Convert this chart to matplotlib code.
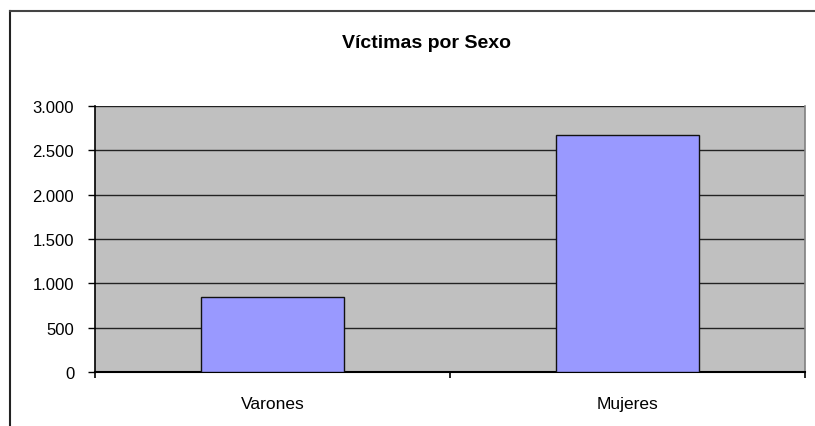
import matplotlib
matplotlib.use("Agg")
import matplotlib.pyplot as plt
from matplotlib.lines import Line2D

categories = ["Varones", "Mujeres"]
values = [842, 2676]
yticks = [0, 500, 1000, 1500, 2000, 2500, 3000]
ytick_labels = ["0", "500", "1.000", "1.500", "2.000", "2.500", "3.000"]
title = "Víctimas por Sexo"

plt.rcParams['font.family'] = ['Liberation Sans', 'DejaVu Sans']

fig = plt.figure(figsize=(8.15, 4.27), dpi=100)
fig.patch.set_facecolor("white")

# outer chart border (top and left visible)
fig.add_artist(Line2D([10/815, 10/815], [0, 1 - 12/427], transform=fig.transFigure,
                      color="#222222", lw=1.5))
fig.add_artist(Line2D([10/815, 1], [1 - 12/427, 1 - 12/427], transform=fig.transFigure,
                      color="#444444", lw=1.5))

ax = fig.add_axes([95/815, 1 - 373/427, 710/815, (373 - 107)/427])
ax.set_facecolor("#C0C0C0")

x = list(range(len(categories)))
ax.bar(x, values, width=0.403, color="#9999FF", edgecolor="#111111", linewidth=1.0, zorder=3)

ax.set_xlim(-0.5, len(categories) - 0.5)
ax.set_ylim(0, 3000)
ax.set_yticks(yticks)
ax.set_yticklabels(ytick_labels, fontsize=12)
ax.yaxis.grid(True, color="#222222", linewidth=1.0, zorder=1)
ax.set_axisbelow(True)
ax.tick_params(axis="y", direction="out", length=5, width=1, pad=10, colors="black")

ax.set_xticks([i - 0.5 for i in range(len(categories) + 1)])
ax.set_xticklabels([])
ax.set_xticks(x, minor=True)
ax.set_xticklabels(categories, minor=True, fontsize=12.5)
ax.tick_params(axis="x", which="major", direction="out", length=4, width=1.2)
ax.tick_params(axis="x", which="minor", length=0, pad=17)

for s in ["top"]:
    ax.spines[s].set_visible(False)
ax.spines["left"].set_color("black")
ax.spines["left"].set_linewidth(1.2)
ax.spines["bottom"].set_color("black")
ax.spines["bottom"].set_linewidth(1.5)
ax.spines["right"].set_color("#808080")
ax.spines["right"].set_linewidth(1.2)

fig.text(427/815, 1 - 44/427, title, ha="center", va="center", fontsize=14,
         fontweight="bold")

fig.savefig("out.png", dpi=100)
